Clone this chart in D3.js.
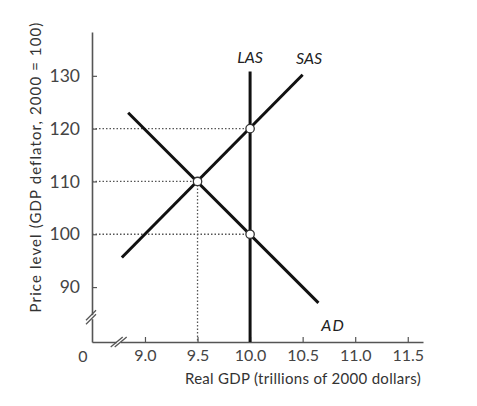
<!DOCTYPE html>
<html>
<head>
<meta charset="utf-8">
<script src="https://cdn.jsdelivr.net/npm/d3@7"></script>
<style>
  body { margin: 0; background: #fff; }
  text { font-family: Lato, "Open Sans", sans-serif; }
</style>
</head>
<body>
<svg class="chart"></svg>
<script>
// curves
const adX = [8.84, 10.65];
const adY = [123, 87];
const sasX = [8.78, 10.5];
const sasY = [95.6, 130.2];
const lasX = [10, 10];
const lasY = [130.8, 79.6];
// equilibrium points
const ptX = [9.5, 10, 10];
const ptY = [110, 120, 100];
// tick labels
const xTicks = [9.0, 9.5, 10.0, 10.5, 11.0, 11.5];
const yTicks = [90, 100, 110, 120, 130];

const width = 477;
const height = 406;

const svg = d3.select(".chart").attr("width", width).attr("height", height);

const x = d3.scaleLinear().domain([8.496, 11.645]).range([92, 423]);
const y = d3.scaleLinear().domain([79.6, 138.3]).range([342, 32]);

const axisColor = "#555";

// x axis
const gx = svg.append("g")
  .attr("transform", `translate(0,${y(79.6)})`)
  .call(d3.axisBottom(x).tickValues(xTicks).tickSizeInner(-5).tickSizeOuter(0)
    .tickPadding(8).tickFormat(d3.format(".1f")));
gx.select(".domain").attr("stroke", axisColor).attr("stroke-width", 1.6);
gx.selectAll(".tick line").attr("stroke", axisColor).attr("stroke-width", 1.2);
gx.selectAll(".tick text").attr("fill", "#444").attr("font-size", 16);

// y axis
const gy = svg.append("g")
  .attr("transform", `translate(${x(8.496)},0)`)
  .call(d3.axisLeft(y).tickValues(yTicks).tickSizeInner(-5).tickSizeOuter(0)
    .tickPadding(12));
gy.select(".domain").attr("stroke", axisColor).attr("stroke-width", 1.6);
gy.selectAll(".tick line").attr("stroke", axisColor).attr("stroke-width", 1.2);
gy.selectAll(".tick text").attr("fill", "#444").attr("font-size", 17.5);

// origin label
svg.append("text").attr("x", 83).attr("y", 362)
  .attr("text-anchor", "middle").attr("fill", "#444").attr("font-size", 16).text("0");

// axis breaks
const brk = svg.append("g").attr("stroke", axisColor).attr("stroke-width", 1.3);
const by = y(84.3), bx = x(8.75);
brk.append("rect").attr("x", 88).attr("y", by - 2).attr("width", 8).attr("height", 4)
  .attr("fill", "#fff").attr("stroke", "none");
[-2, 2].forEach(o => {
  brk.append("line").attr("x1", 86).attr("y1", by + 5 + o).attr("x2", 96).attr("y2", by - 5 + o);
});
brk.append("rect").attr("x", bx - 2).attr("y", 338).attr("width", 4).attr("height", 8)
  .attr("fill", "#fff").attr("stroke", "none");
[-2, 2].forEach(o => {
  brk.append("line").attr("x1", bx - 6 + o).attr("y1", 347).attr("x2", bx + 6 + o).attr("y2", 337);
});

// dotted guide lines
const guides = [
  [[8.496, 120], [10, 120]],
  [[8.496, 110], [9.5, 110]],
  [[8.496, 100], [10, 100]],
  [[9.5, 110], [9.5, 79.6]]
];
const line = d3.line().x(d => x(d[0])).y(d => y(d[1]));
svg.selectAll(".guide").data(guides).enter().append("path")
  .attr("class", "guide")
  .attr("d", line)
  .attr("fill", "none")
  .attr("stroke", "#555")
  .attr("stroke-width", 1.3)
  .attr("stroke-dasharray", "1.5,2");

// curves
const curves = [
  d3.zip(adX, adY),
  d3.zip(sasX, sasY),
  d3.zip(lasX, lasY)
];
svg.selectAll(".curve").data(curves).enter().append("path")
  .attr("class", "curve")
  .attr("d", line)
  .attr("fill", "none")
  .attr("stroke", "#111")
  .attr("stroke-width", 3);

// points
svg.selectAll(".pt").data(d3.zip(ptX, ptY)).enter().append("circle")
  .attr("class", "pt")
  .attr("cx", d => x(d[0]))
  .attr("cy", d => y(d[1]))
  .attr("r", 4.2)
  .attr("fill", "#fff")
  .attr("stroke", "#333")
  .attr("stroke-width", 1.3);

// curve labels
const lab = svg.append("g").attr("font-size", 16).attr("font-style", "italic")
  .attr("fill", "#222").attr("text-anchor", "middle");
lab.append("text").attr("x", x(10)).attr("y", 63).text("LAS");
lab.append("text").attr("x", 309).attr("y", 64).text("SAS");
lab.append("text").attr("x", 333).attr("y", 331).text("AD").attr("letter-spacing", 1);

// axis titles
svg.append("text").attr("x", 303).attr("y", 384).attr("text-anchor", "middle")
  .attr("font-size", 15).attr("letter-spacing", 0.3).attr("fill", "#333")
  .text("Real GDP (trillions of 2000 dollars)");
svg.append("text").attr("transform", "translate(41,167) rotate(-90)")
  .attr("text-anchor", "middle").attr("font-size", 15).attr("letter-spacing", 1.1).attr("fill", "#333")
  .text("Price level (GDP deflator, 2000 = 100)");
</script>
</body>
</html>
